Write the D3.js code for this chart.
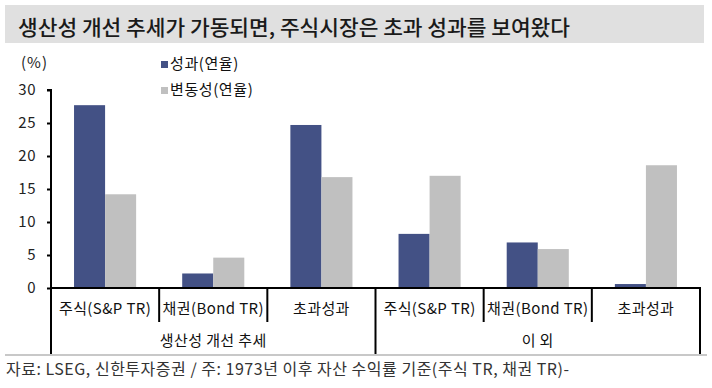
<!DOCTYPE html>
<html><head><meta charset="utf-8">
<script src="https://cdn.jsdelivr.net/npm/d3@7"></script>
<style>body{margin:0;background:#fff}svg{display:block}text{font-family:"Noto Sans CJK KR","Noto Sans",sans-serif}</style>
</head><body><svg id="c" width="712" height="388"></svg>
<script>
const title = "생산성 개선 추세가 가동되면, 주식시장은 초과 성과를 보여왔다";
const categories = ["주식(S&P TR)","채권(Bond TR)","초과성과","주식(S&P TR) ","채권(Bond TR) ","초과성과 "];
const groups = ["생산성 개선 추세","이 외"];
const seriesNames = ["성과(연율)","변동성(연율)"];
const performance = [27.7, 2.2, 24.7, 8.2, 6.9, 0.6];
const volatility = [14.2, 4.6, 16.8, 17.0, 5.9, 18.6];
const yTicks = [0,5,10,15,20,25,30];
const colors = ["#435185","#c0c0c0"];
const footnote = "자료: LSEG, 신한투자증권 / 주: 1973년 이후 자산 수익률 기준(주식 TR, 채권 TR)-";

const svg = d3.select("#c");
// title bar
svg.append("rect").attr("x",5).attr("y",5).attr("width",699).attr("height",38).attr("fill","#e0e0e0");
svg.append("text").attr("x",18).attr("y",35).attr("font-size",21).attr("font-weight",500).attr("fill","#1a1a1a")
  .attr("textLength",552).attr("lengthAdjust","spacingAndGlyphs").text(title);

const x0 = d3.scaleBand().domain(categories).range([51,700]).paddingInner(0).paddingOuter(0);
const x1 = d3.scaleBand().domain(seriesNames).range([0,x0.bandwidth()]).paddingInner(0).paddingOuter(0.742);
const y = d3.scaleLinear().domain([0,30]).range([288,90]);

const data = categories.map((c,i)=>({c, vals:[performance[i], volatility[i]]}));
const g = svg.append("g");
data.forEach(d=>{
  d.vals.forEach((v,j)=>{
    g.append("rect").attr("x",x0(d.c)+x1(seriesNames[j])).attr("y",y(v))
     .attr("width",x1.bandwidth()).attr("height",y(0)-y(v)).attr("fill",colors[j]);
  });
});

// y axis
const yAxis = d3.axisLeft(y).tickValues(yTicks).tickSize(4).tickPadding(11);
const ya = svg.append("g").attr("transform","translate(51,0)").call(yAxis);
ya.select(".domain").attr("stroke","#000").attr("stroke-width",2).attr("d","M-4,90H0V288");
ya.selectAll(".tick line").attr("stroke","#000").attr("stroke-width",2);
ya.selectAll("text").attr("font-size",15).attr("fill","#222").attr("letter-spacing",0.5).style("font-family",'"Noto Sans CJK KR",sans-serif');
svg.append("text").attr("x",21).attr("y",68).attr("font-size",15).attr("fill","#222").attr("letter-spacing",1).text("(%)");

// x axis
svg.append("line").attr("x1",50).attr("x2",701).attr("y1",288).attr("y2",288).attr("stroke","#000").attr("stroke-width",2);
const bounds = categories.map(c=>x0(c)).concat([700]);
bounds.forEach((b,i)=>{
  const major = (i===0||i===3||i===6);
  svg.append("line").attr("x1",b).attr("x2",b).attr("y1",288).attr("y2",major?354:322)
    .attr("stroke","#000").attr("stroke-width",2);
});
categories.forEach(c=>{
  svg.append("text").attr("x",x0(c)+x0.bandwidth()/2).attr("y",314).attr("text-anchor","middle")
   .attr("font-size",15).attr("letter-spacing",0.4).attr("fill","#111").text(c.trim());
});
groups.forEach((gname,i)=>{
  const xs = x0(categories[i*3]), xe = i===1?700:x0(categories[3]);
  svg.append("text").attr("x",(xs+xe)/2).attr("y",346).attr("text-anchor","middle")
   .attr("font-size",15).attr("letter-spacing",0.4).attr("fill","#111").text(gname);
});
svg.append("line").attr("x1",5).attr("x2",707).attr("y1",355).attr("y2",355).attr("stroke","#c8c8c8").attr("stroke-width",2);

// legend
seriesNames.forEach((s,i)=>{
  svg.append("rect").attr("x",161).attr("y",61+i*26).attr("width",7).attr("height",7).attr("fill",colors[i]);
  svg.append("text").attr("x",170).attr("y",69+i*26).attr("font-size",15).attr("letter-spacing",0.6).attr("fill","#111").text(s);
});

svg.append("text").attr("x",6).attr("y",375).attr("font-size",16).attr("fill","#333")
  .attr("textLength",563).attr("lengthAdjust","spacing").text(footnote);
</script></body></html>
